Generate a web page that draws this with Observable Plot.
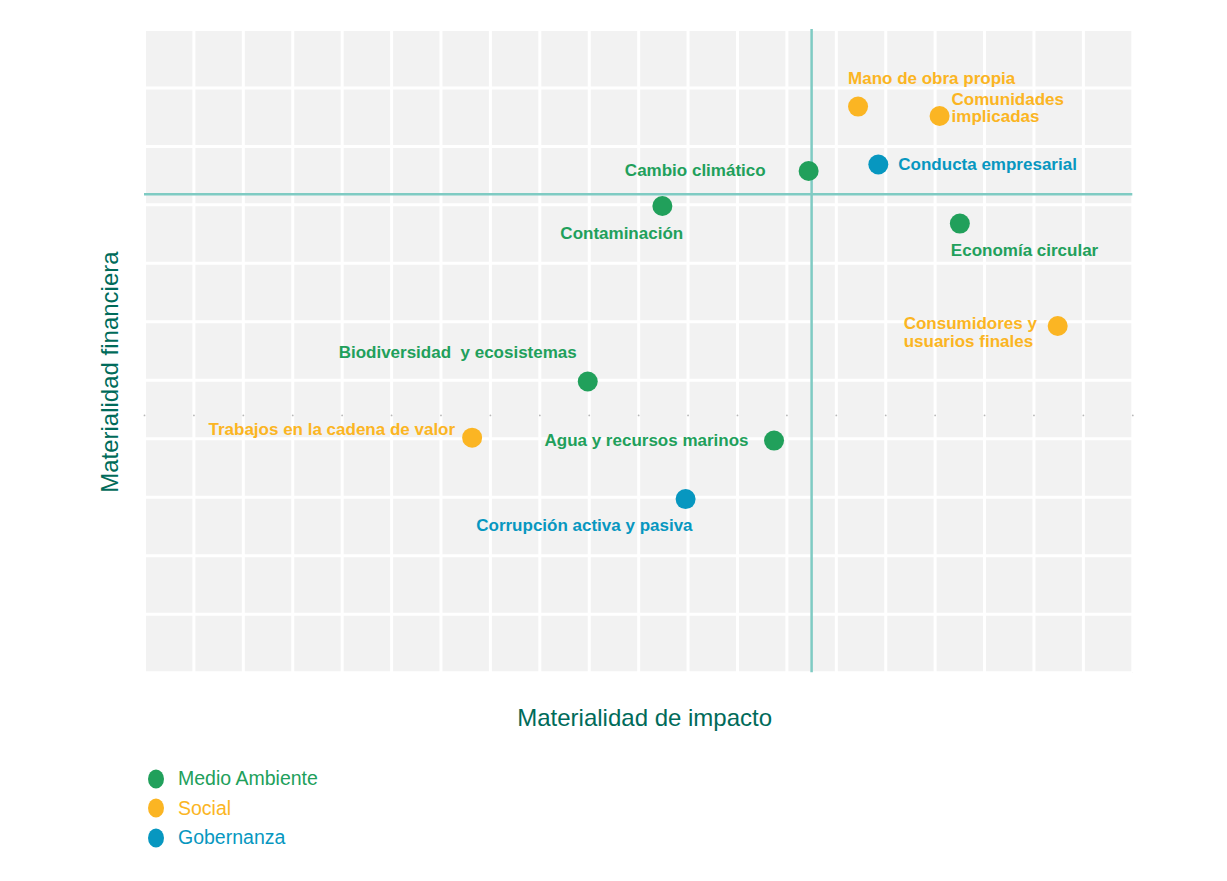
<!DOCTYPE html>
<html>
<head>
<meta charset="utf-8">
<script src="https://cdn.jsdelivr.net/npm/d3@7"></script>
<script src="https://cdn.jsdelivr.net/npm/@observablehq/plot@0.6"></script>
<style>
  html, body { margin: 0; padding: 0; background: #ffffff; }
  body { width: 1227px; font-family: "Liberation Sans", Arial, Helvetica, sans-serif; }
  #chart svg { display: block; }
  #chart svg text { white-space: pre; }
  #legend { padding: 1px 0 0 146px; }
  .item { display: flex; align-items: center; height: 29.5px; font-size: 19.5px; }
  .item svg { display: block; margin-right: 12px; }
</style>
</head>
<body>
<div id="chart"></div>
<div id="legend"></div>
<script>
// ---- Data ----
const topics = [
  "Mano de obra propia",
  "Comunidades\nimplicadas",
  "Conducta empresarial",
  "Cambio climático",
  "Contaminación",
  "Economía circular",
  "Consumidores y\nusuarios finales",
  "Biodiversidad  y ecosistemas",
  "Trabajos en la cadena de valor",
  "Agua y recursos marinos",
  "Corrupción activa y pasiva"
];
const impact    = [14.44, 16.09, 14.85, 13.44, 10.48, 16.50, 18.48, 8.97, 6.63, 12.74, 10.95];
const financial = [9.68, 9.52, 8.69, 8.58, 7.98, 7.68, 5.93, 4.98, 4.02, 3.97, 2.97];
const pillar = [
  "Social", "Social", "Gobernanza", "Medio Ambiente", "Medio Ambiente",
  "Medio Ambiente", "Social", "Medio Ambiente", "Social", "Medio Ambiente", "Gobernanza"
];

const pillarNames  = ["Medio Ambiente", "Social", "Gobernanza"];
const pillarColors = ["#21a05b", "#fbb523", "#0797c0"];

const impactThreshold = 13.5;
const financialThreshold = 8.18;
const midTickLevel = 4.4;

const xGrid = [0,1,2,3,4,5,6,7,8,9,10,11,12,13,14,15,16,17,18,19,20];
const yGrid = [0,1,2,3,4,5,6,7,8,9,10,11];

const xTitle = "Materialidad de impacto";
const yTitle = "Materialidad financiera";

// label placement (styling only)
const labelLayout = {
  "Mano de obra propia":            {anchor: "start", dx: -10,  dy: -28, lh: 1},
  "Comunidades\nimplicadas":        {anchor: "start", dx: 12,   dy: -8,  lh: 1},
  "Conducta empresarial":           {anchor: "start", dx: 20,   dy: 0,   lh: 1},
  "Cambio climático":               {anchor: "end",   dx: -43,  dy: 0,   lh: 1},
  "Contaminación":                  {anchor: "start", dx: -102, dy: 28,  lh: 1},
  "Economía circular":              {anchor: "start", dx: -9,   dy: 27,  lh: 1},
  "Consumidores y\nusuarios finales": {anchor: "start", dx: -154, dy: 6.3, lh: 1.06},
  "Biodiversidad  y ecosistemas":   {anchor: "end",   dx: -11,  dy: -29, lh: 1},
  "Trabajos en la cadena de valor": {anchor: "end",   dx: -17,  dy: -8.5, lh: 1},
  "Agua y recursos marinos":        {anchor: "end",   dx: -25.5, dy: 0,  lh: 1},
  "Corrupción activa y pasiva":     {anchor: "end",   dx: 7,    dy: 26,  lh: 1}
};

const rows = topics.map((t, i) => ({topic: t, impact: impact[i], financial: financial[i], pillar: pillar[i]}));

const labelMarks = rows.map(r => {
  const L = labelLayout[r.topic];
  return Plot.text([r], {
    x: "impact", y: "financial", text: "topic", fill: "pillar",
    textAnchor: L.anchor, dx: L.dx, dy: L.dy, lineHeight: L.lh,
    fontSize: 17, fontWeight: "bold"
  });
});

const chart = Plot.plot({
  width: 1227,
  height: 763,
  marginTop: 28.9,
  marginBottom: 90.7,
  marginLeft: 144,
  marginRight: 94.7,
  style: {fontFamily: '"Liberation Sans", Arial, Helvetica, sans-serif', background: "#ffffff"},
  x: {domain: [0, 20], axis: null},
  y: {domain: [0, 11], axis: null},
  color: {domain: pillarNames, range: pillarColors},
  marks: [
    Plot.frame({fill: "#f2f2f2", stroke: null}),
    Plot.ruleX(xGrid, {stroke: "#ffffff", strokeWidth: 3}),
    Plot.ruleY(yGrid, {stroke: "#ffffff", strokeWidth: 3}),
    Plot.dot(xGrid, {x: d => d, y: () => midTickLevel, r: 0.9, fill: "#b8b8b8", stroke: null}),
    Plot.ruleX([impactThreshold], {stroke: "#7fcbc3", strokeWidth: 2.5}),
    Plot.ruleY([financialThreshold], {stroke: "#7fcbc3", strokeWidth: 2.5}),
    Plot.dot(rows, {x: "impact", y: "financial", fill: "pillar", r: 10, stroke: null}),
    ...labelMarks,
    Plot.text([xTitle], {frameAnchor: "bottom", textAnchor: "middle", lineAnchor: "middle", dx: 6, dy: 46, fontSize: 24, fill: "#006b5a"}),
    Plot.text([yTitle], {frameAnchor: "left", textAnchor: "middle", lineAnchor: "middle", dx: -34.5, dy: 21, rotate: -90, fontSize: 24, fill: "#006b5a"})
  ]
});
document.getElementById("chart").appendChild(chart);

// ---- Legend ----
const legend = d3.select("#legend");
pillarNames.forEach((name, i) => {
  const item = legend.append("div").attr("class", "item").style("color", pillarColors[i]);
  const s = item.append("svg").attr("width", 20).attr("height", 20);
  s.append("ellipse").attr("cx", 10).attr("cy", 10).attr("rx", 8).attr("ry", 9.5).attr("fill", pillarColors[i]);
  item.append("span").text(name);
});
</script>
</body>
</html>
